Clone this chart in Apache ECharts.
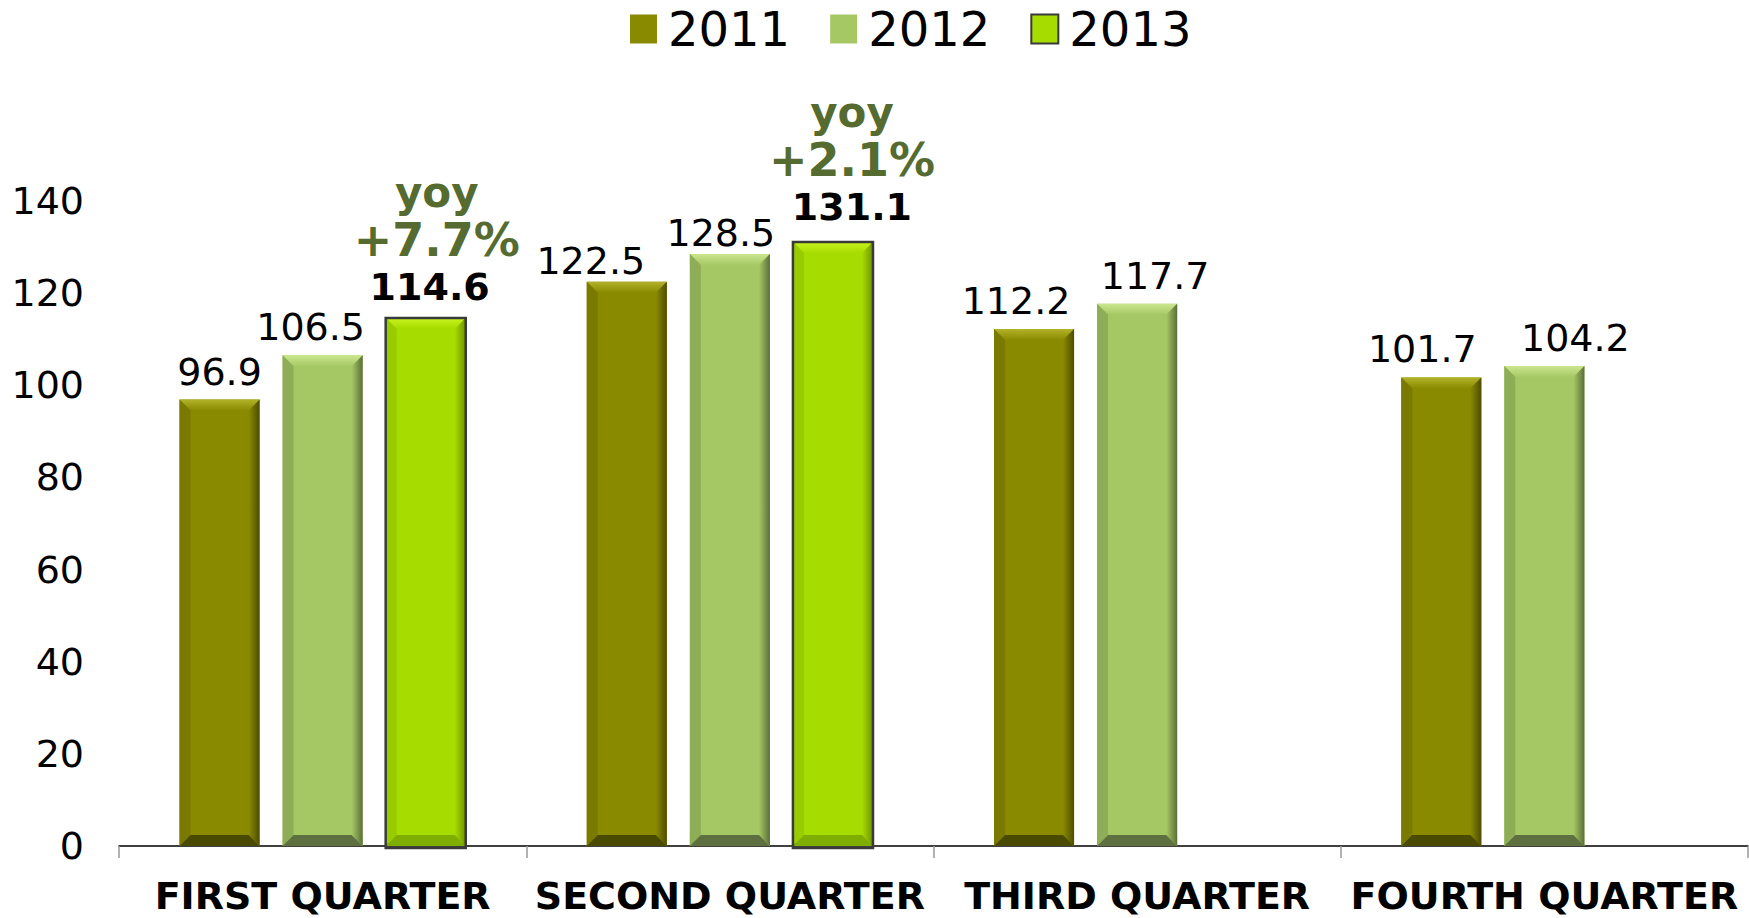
<!DOCTYPE html>
<html>
<head>
<meta charset="utf-8">
<script src="https://cdn.jsdelivr.net/npm/echarts@6/dist/echarts.min.js"></script>
<style>
html,body{margin:0;padding:0;background:#fff;}
#c{width:1749px;height:918px;}
</style>
</head>
<body>
<div id="c"></div>
<script>
var categories = ['FIRST QUARTER', 'SECOND QUARTER', 'THIRD QUARTER', 'FOURTH QUARTER'];
var years = ['2011', '2012', '2013'];
var values2011 = [96.9, 122.5, 112.2, 101.7];
var values2012 = [106.5, 128.5, 117.7, 104.2];
var values2013 = [114.6, 131.1, null, null];
var yoy2013 = ['+7.7%', '+2.1%', null, null];
var yTicks = [0, 20, 40, 60, 80, 100, 120, 140];

var seriesValues = [values2011, values2012, values2013];

// label placement tweaks (style only, in px)
var labelShifts = [
  [[0, 0], [-36, 7], [-18, 0], [-19, 0]],
  [[-12, 0], [-9, 7], [18, 0], [31, 0]],
  [[4, 0], [19, -4], [0, 0], [0, 0]]
];
var palette = [
  {main: '#8a8a00', top: '#b3b32a', left: '#7a7a00', right: '#4d4d00', bottom: '#4a4a00'},
  {main: '#a6c864', top: '#cae78f', left: '#8dae56', right: '#5b6f3a', bottom: '#5e7040'},
  {main: '#a6dc00', top: '#c8f31e', left: '#98cc00', right: '#6f9400', bottom: '#7fae00'}
];
var BAR_W_RATIO = 0.1966;
var GAP_RATIO = 0.2875;
var BEVEL = 11;

var chart = echarts.init(document.getElementById('c'), null, {renderer: 'svg'});
var FONT = '"DejaVu Sans", Verdana, sans-serif';

function bevelSeries(si) {
  return {
    type: 'custom',
    name: 'bevel' + years[si],
    silent: true,
    z: 5,
    data: seriesValues[si].map(function (v, i) { return [i, v]; }),
    renderItem: function (params, api) {
      var v = api.value(1);
      if (v === null || v === undefined || isNaN(v)) return null;
      var idx = api.value(0);
      var top = api.coord([idx, v]);
      var base = api.coord([idx, 0]);
      var band = api.size([1, 0])[0];
      var w = band * BAR_W_RATIO;
      var g = w * GAP_RATIO;
      var total = 3 * w + 2 * g;
      var x0 = top[0] - total / 2 + si * (w + g);
      var x1 = x0 + w;
      var yT = top[1], yB = base[1];
      var b = BEVEL;
      var c = palette[si];
      var kids = [
        {type: 'polygon', shape: {points: [[x0, yT], [x1, yT], [x1 - b, yT + b], [x0 + b, yT + b]]},
          style: {fill: new echarts.graphic.LinearGradient(0, 0, 0, 1, [{offset: 0, color: c.top}, {offset: 1, color: c.main}])}},
        {type: 'polygon', shape: {points: [[x0, yT], [x0 + b, yT + b], [x0 + b, yB - b], [x0, yB]]},
          style: {fill: c.left}},
        {type: 'polygon', shape: {points: [[x1, yT], [x1, yB], [x1 - b, yB - b], [x1 - b, yT + b]]},
          style: {fill: new echarts.graphic.LinearGradient(0, 0, 1, 0, [{offset: 0, color: c.main}, {offset: 1, color: c.right}])}},
        {type: 'polygon', shape: {points: [[x0, yB], [x0 + b, yB - b], [x1 - b, yB - b], [x1, yB]]},
          style: {fill: c.bottom}}
      ];
      if (si === 2) {
        kids.push({type: 'rect', shape: {x: x0, y: yT, width: w, height: yB - yT + 2},
          style: {fill: null, stroke: '#3a3a3a', lineWidth: 2.5}});
      }
      return {type: 'group', children: kids};
    }
  };
}

var barSeries = years.map(function (y, si) {
  var items = seriesValues[si].map(function (v, i) {
    var item = {value: v, label: {offset: labelShifts[si][i]}};
    if (si === 2 && i === 1) {
      item.label.rich = {
        y: {padding: [0, 0, 0, 0]},
        p: {padding: [0, 0, 0, 0]}
      };
    }
    return item;
  });
  var s = {
    type: 'bar',
    name: y,
    data: items,
    barWidth: (BAR_W_RATIO * 100) + '%',
    barGap: (GAP_RATIO * 100) + '%',
    z: 2,
    itemStyle: {color: palette[si].main},
    label: {
      show: true,
      position: 'top',
      distance: 9,
      fontFamily: FONT,
      fontSize: 38,
      color: '#000',
      formatter: function (p) { return p.value == null ? '' : p.value.toFixed(1); }
    }
  };
  if (si === 2) {
    s.itemStyle = {color: palette[si].main, borderColor: '#3a3a3a', borderWidth: 2.5};
    s.label = {
      show: true,
      position: 'top',
      distance: 8,
      fontFamily: FONT,
      formatter: function (p) {
        if (p.value == null) return '';
        return '{y|yoy}\n{p|' + yoy2013[p.dataIndex] + '}\n{v|' + p.value.toFixed(1) + '}';
      },
      rich: {
        y: {fontFamily: FONT, fontSize: 42, fontWeight: 'bold', color: '#556b2f', lineHeight: 48, padding: [0, 0, 0, 14]},
        p: {fontFamily: FONT, fontSize: 46, fontWeight: 'bold', color: '#556b2f', lineHeight: 48, padding: [0, 0, 0, 14]},
        v: {fontFamily: FONT, fontSize: 38, fontWeight: 'bold', color: '#000', lineHeight: 46}
      }
    };
  }
  return s;
});

var option = {
  backgroundColor: '#fff',
  animation: false,
  legend: {
    data: years,
    left: 625,
    top: 0,
    itemWidth: 27,
    itemHeight: 29,
    itemGap: 40,
    icon: 'rect',
    formatter: function (n) { return '{t|' + n + '}'; },
    textStyle: {fontFamily: FONT, fontSize: 48, color: '#000',
      rich: {t: {fontFamily: FONT, fontSize: 48, color: '#000', padding: [0, 0, 0, 6]}}}
  },
  grid: {left: 119, right: 1, top: 201, bottom: 72, containLabel: false},
  xAxis: {
    type: 'category',
    data: categories,
    axisLine: {lineStyle: {color: '#000', width: 1.5}},
    axisTick: {show: true, length: 12, lineStyle: {color: '#999', width: 1.5}},
    axisLabel: {fontFamily: FONT, fontSize: 38, fontWeight: 'bold', color: '#000', margin: 31, interval: 0}
  },
  yAxis: {
    type: 'value',
    min: yTicks[0],
    max: yTicks[yTicks.length - 1],
    interval: 20,
    axisLine: {show: false},
    axisTick: {show: false},
    splitLine: {show: false},
    axisLabel: {fontFamily: FONT, fontSize: 38, color: '#000', margin: 35}
  },
  series: barSeries.concat([bevelSeries(0), bevelSeries(1), bevelSeries(2)])
};
chart.setOption(option);
</script>
</body>
</html>
